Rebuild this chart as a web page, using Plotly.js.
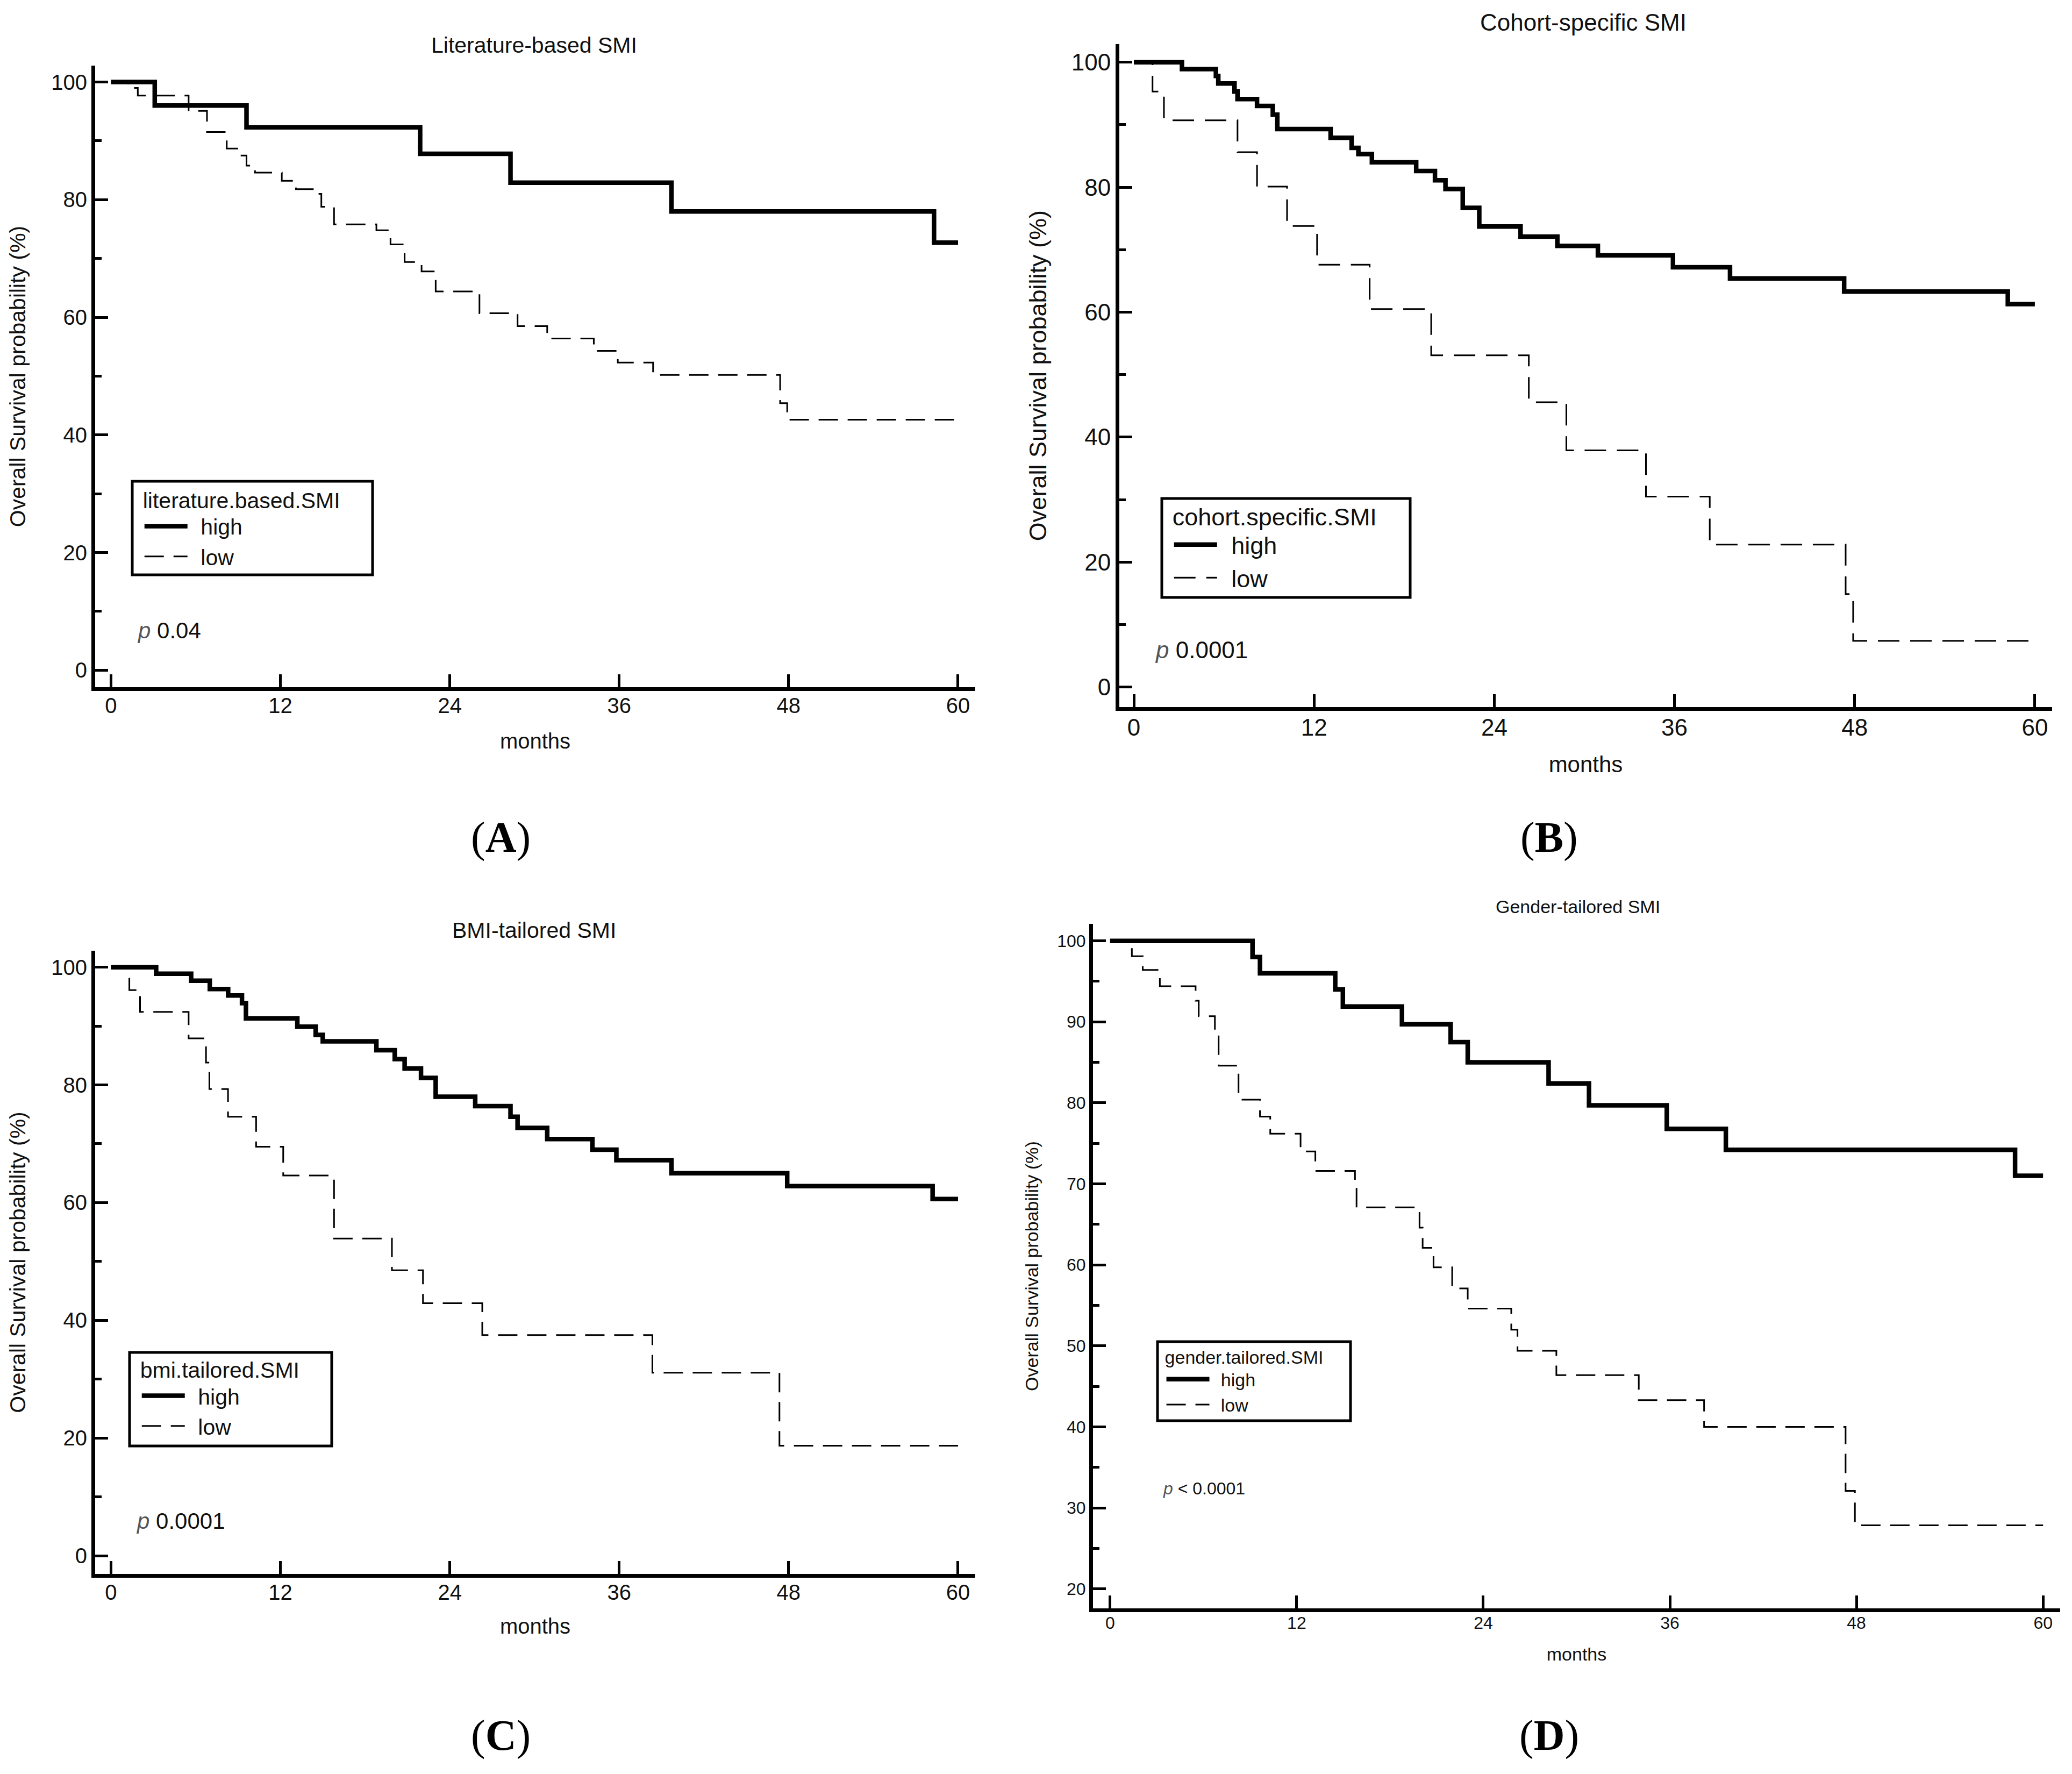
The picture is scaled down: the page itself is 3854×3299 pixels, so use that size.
<!DOCTYPE html>
<html>
<head>
<meta charset="utf-8">
<script src="https://cdn.plot.ly/plotly-3.0.1.min.js"></script>
<style>html,body{margin:0;padding:0;background:#fff}</style>
</head>
<body>
<div id="chart" style="width:3854px;height:3299px"></div>
<script>
// ---------- data (months, survival %) ----------
var xTicks = [0, 12, 24, 36, 48, 60];
var groupNames = ["high", "low"];

// A: Literature-based SMI
var tA_high = [0, 3.1, 9.6, 21.9, 28.3, 39.7, 58.3, 60];
var sA_high = [100, 96.0, 92.3, 87.8, 82.9, 78.0, 72.7, 72.7];
var tA_low = [0, 1.2, 1.9, 5.5, 6.8, 8.2, 9.1, 9.6, 10.2, 12.1, 13.1, 14.5, 14.9, 15.8, 18.8, 19.8, 20.8, 22.0, 23.0, 26.1, 28.8, 30.9, 34.2, 35.9, 38.4, 47.4, 47.9, 60];
var sA_low = [100, 99.0, 97.7, 95.1, 91.5, 88.7, 87.5, 85.8, 84.6, 83.2, 81.8, 81.0, 78.8, 75.8, 74.8, 72.4, 69.4, 67.8, 64.4, 60.7, 58.5, 56.4, 54.3, 52.3, 50.2, 45.4, 42.6, 42.6];

// B: Cohort-specific SMI
var tB_high = [0, 3.2, 5.46, 5.62, 6.7, 6.9, 8.2, 9.25, 9.55, 13.1, 14.5, 14.95, 15.85, 18.8, 20.05, 20.75, 21.9, 23.0, 25.75, 28.2, 30.9, 35.9, 39.7, 47.3, 58.2, 60];
var sB_high = [100, 98.9, 97.8, 96.6, 95.3, 94.1, 93.0, 91.6, 89.3, 87.9, 86.3, 85.3, 84.0, 82.6, 81.1, 79.7, 76.7, 73.7, 72.1, 70.6, 69.1, 67.2, 65.4, 63.3, 61.3, 61.3];
var tB_low = [0, 1.24, 2.0, 6.9, 8.2, 10.2, 12.2, 15.7, 19.8, 26.3, 28.8, 34.1, 38.35, 47.4, 47.9, 60];
var sB_low = [100, 95.3, 90.7, 85.6, 80.1, 73.8, 67.6, 60.5, 53.1, 45.6, 37.9, 30.5, 22.8, 14.9, 7.4, 7.4];

// C: BMI-tailored SMI
var tC_high = [0, 3.2, 5.68, 7.0, 8.3, 9.28, 9.56, 13.2, 14.5, 15.0, 18.8, 20.1, 20.8, 21.96, 23.0, 25.8, 28.3, 28.8, 30.9, 34.1, 35.8, 39.7, 47.9, 58.2, 60];
var sC_high = [100, 98.9, 97.7, 96.3, 95.2, 93.9, 91.3, 89.9, 88.5, 87.4, 85.9, 84.4, 82.8, 81.2, 78.0, 76.4, 74.6, 72.7, 70.8, 69.0, 67.2, 65.0, 62.8, 60.6, 60.6];
var tC_low = [0, 1.3, 2.06, 5.5, 6.73, 6.97, 8.29, 10.28, 12.2, 15.8, 19.9, 22.1, 26.3, 38.35, 47.35, 60];
var sC_low = [100, 96.1, 92.4, 87.9, 83.8, 79.3, 74.6, 69.5, 64.6, 53.9, 48.5, 42.9, 37.5, 31.1, 18.7, 18.7];

// D: Gender-tailored SMI
var tD_high = [0, 9.16, 9.64, 14.48, 14.97, 18.77, 21.9, 23.0, 28.2, 30.8, 35.8, 39.6, 58.2, 60];
var sD_high = [100, 98.0, 96.0, 94.0, 91.9, 89.7, 87.5, 85.0, 82.4, 79.7, 76.8, 74.2, 71.0, 71.0];
var tD_low = [0, 1.4, 2.1, 3.2, 5.5, 5.7, 6.74, 6.98, 8.26, 9.64, 10.3, 12.25, 13.2, 15.75, 15.85, 19.9, 20.1, 20.8, 22.0, 23.0, 25.8, 26.2, 28.7, 34.0, 38.2, 47.3, 47.9, 60];
var sD_low = [100, 98.1, 96.4, 94.4, 92.6, 90.7, 88.5, 84.6, 80.4, 78.3, 76.2, 74.0, 71.6, 69.5, 67.1, 64.6, 62.1, 59.7, 57.1, 54.6, 52.0, 49.4, 46.4, 43.3, 40.0, 32.1, 27.85, 27.85];

var panelTitles = ["Literature-based SMI", "Cohort-specific SMI", "BMI-tailored SMI", "Gender-tailored SMI"];
var legendTitles = ["literature.based.SMI", "cohort.specific.SMI", "bmi.tailored.SMI", "gender.tailored.SMI"];
var pTexts = ["0.04", "0.0001", "0.0001", "< 0.0001"];
var panelLetters = ["A", "B", "C", "D"];
var yTitle = "Overall Survival probability (%)";
var xTitle = "months";

// ---------- layout geometry ----------
var FONT = "Liberation Sans, Arial, Helvetica, sans-serif";
var INK = "#111111";
var panels = [
  {hi:[tA_high,sA_high], lo:[tA_low,sA_low], xd:[0.04593,0.47068], yd:[0.61261,0.96302], xr:[-1.12,61.22], yr:[-2.9,102.8], ydt:20, ymin:10, fs:40, dash:"36px,18px",
   title:[0.2577,0.97466], leg:[0.06383,0.17981,0.67596,0.72871], legdx:0.0046, legdy:0.0009, p:[0.06565,0.64474], lab:[0.24172,0.52774], ysto:37, xsto:33},
  {hi:[tB_high,sB_high], lo:[tB_low,sB_low], xd:[0.54022,0.99040], yd:[0.60139,0.97514], xr:[-0.97,61.15], yr:[-3.2,102.9], ydt:20, ymin:10, fs:44, dash:"40px,20px",
   title:[0.76414,0.98727], leg:[0.56072,0.68059,0.66323,0.71900], legdx:0.0046, legdy:0.0026, p:[0.55682,0.63353], lab:[0.74754,0.52774], ysto:35, xsto:33},
  {hi:[tC_high,sC_high], lo:[tC_low,sC_low], xd:[0.04593,0.47068], yd:[0.11276,0.46408], xr:[-1.12,61.22], yr:[-3.1,102.8], ydt:20, ymin:10, fs:40, dash:"36px,18px",
   title:[0.2577,0.47560], leg:[0.06253,0.16009,0.18490,0.23765], legdx:0.0046, legdy:0.0018, p:[0.06513,0.14247], lab:[0.24172,0.02182], ysto:37, xsto:30},
  {hi:[tD_high,sD_high], lo:[tD_low,sD_low], xd:[0.52750,0.99429], yd:[0.09336,0.47924], xr:[-1.1,61.1], yr:[17.6,102.1], ydt:10, ymin:5, fs:32, dash:"36px,18px",
   title:[0.76155,0.48894], leg:[0.55864,0.65179,0.19915,0.24371], legdx:0.003, legdy:0.0009, p:[0.56072,0.16096], lab:[0.74754,0.02182], ysto:27, xsto:31}
];

var traces = [];
var layout = {
  width: 3854, height: 3299,
  margin: {l:0, r:0, t:0, b:0, pad:0},
  paper_bgcolor: "#ffffff", plot_bgcolor: "#ffffff",
  font: {family: FONT, color: INK, size: 40},
  showlegend: true,
  annotations: [], shapes: []
};

panels.forEach(function(P, i) {
  var n = i === 0 ? "" : String(i + 1);
  var legId = "legend" + n;
  var fs = P.fs;
  var titleFs = (i === 3) ? 34 : (i === 1 ? 44 : 41);
  var legFs = (i === 3) ? 34 : (i === 1 ? 45 : 41);
  [P.hi, P.lo].forEach(function(d, k) {
    traces.push({
      type: "scatter", mode: "lines",
      x: d[0], y: d[1],
      xaxis: "x" + n, yaxis: "y" + n,
      name: "\u00a0\u2009" + groupNames[k],
      legend: legId,
      line: k === 0 ? {shape: "hv", color: "#000", width: 8.5}
                    : {shape: "hv", color: "#000", width: 3, dash: P.dash},
      hoverinfo: "skip"
    });
  });
  layout["xaxis" + n] = {
    domain: P.xd, range: P.xr, anchor: "y" + n,
    showline: true, linecolor: "#000", linewidth: 7,
    ticks: "inside", ticklen: 24, tickwidth: 5, tickcolor: "#000",
    tickvals: xTicks, ticktext: xTicks.map(String),
    tickfont: {size: fs, color: INK, family: FONT},
    ticklabelstandoff: -7,
    showgrid: false, zeroline: false, fixedrange: true,
    title: {text: xTitle, font: {size: (i === 3 ? 34 : (i === 1 ? 42 : 40)), color: INK, family: FONT}, standoff: P.xsto}
  };
  layout["yaxis" + n] = {
    domain: P.yd, range: P.yr, anchor: "x" + n,
    showline: true, linecolor: "#000", linewidth: 7,
    ticks: "inside", ticklen: 24, tickwidth: 5, tickcolor: "#000",
    dtick: P.ydt, tick0: 0,
    minor: {dtick: P.ymin, tick0: 0, ticks: "inside", ticklen: 12, tickwidth: 5, tickcolor: "#000", showgrid: false},
    tickfont: {size: fs, color: INK, family: FONT},
    ticklabelstandoff: 0,
    showgrid: false, zeroline: false, fixedrange: true,
    title: {text: yTitle, font: {size: (i === 3 ? 34 : (i === 1 ? 45 : 41)), color: INK, family: FONT}, standoff: P.ysto}
  };
  layout[legId] = {
    x: P.leg[0] + P.legdx, y: P.leg[3] + P.legdy, xanchor: "left", yanchor: "top",
    xref: "paper", yref: "paper",
    bgcolor: "rgba(0,0,0,0)", borderwidth: 0,
    font: {size: legFs, color: INK, family: FONT},
    title: {text: legendTitles[i], font: {size: legFs, color: INK, family: FONT}, side: "top"},
    itemwidth: 80, tracegroupgap: 0, traceorder: "normal", itemclick: false, itemdoubleclick: false
  };
  layout.shapes.push({type: "rect", xref: "paper", yref: "paper",
    x0: P.leg[0], x1: P.leg[1], y0: P.leg[2], y1: P.leg[3],
    line: {color: "#000", width: 5}, fillcolor: "rgba(0,0,0,0)"});
  layout.annotations.push({text: panelTitles[i], xref: "paper", yref: "paper",
    x: P.title[0], y: P.title[1], xanchor: "center", yanchor: "middle", showarrow: false,
    font: {size: titleFs, color: INK, family: FONT}});
  layout.annotations.push({text: '<span style="color:#555555"><i>p</i></span> ' + pTexts[i], xref: "paper", yref: "paper",
    x: P.p[0], y: P.p[1], xanchor: "left", yanchor: "middle", showarrow: false,
    font: {size: (i === 3 ? 32 : (i === 1 ? 44 : 42)), color: INK, family: FONT}});
  layout.annotations.push({text: "(<b>" + panelLetters[i] + "</b>)", xref: "paper", yref: "paper",
    x: P.lab[0], y: P.lab[1], xanchor: "center", yanchor: "middle", showarrow: false,
    font: {size: 80, color: "#000", family: "Liberation Serif, Times New Roman, serif"}});
});

Plotly.newPlot("chart", traces, layout, {displayModeBar: false, staticPlot: true});
</script>
</body>
</html>
